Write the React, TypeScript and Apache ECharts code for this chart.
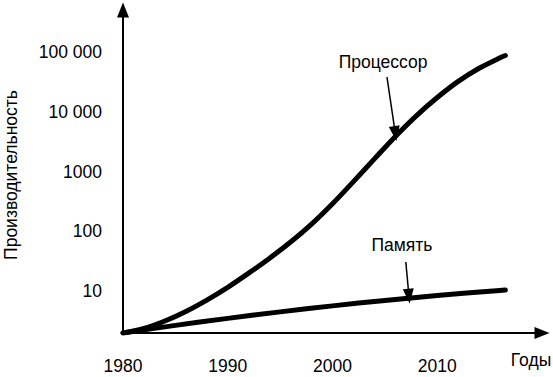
import React, { useEffect, useRef } from "react";
import * as echarts from "echarts";

// X axis: years
const xTickValues = [1980, 1990, 2000, 2010];
const xTickLabels = ["1980", "1990", "2000", "2010"];
const xAxisName = "Годы";

// Y axis: performance (log scale)
const yTickValues = [10, 100, 1000, 10000, 100000];
const yTickLabels = ["10", "100", "1000", "10 000", "100 000"];
const yAxisName = "Производительность";

// Processor curve (read every 2 years)
const processorYears = [1980, 1982, 1984, 1986, 1988, 1990, 1992, 1994, 1996, 1998, 2000, 2002, 2004, 2006, 2008, 2010, 2012, 2014, 2016, 2016.5];
const processorValues = [2, 2.38, 3.17, 4.58, 7.1, 11.6, 20, 35.6, 66.2, 132, 289, 678, 1626, 3855, 8530, 17220, 32060, 53200, 79600, 86700];
const processorName = "Процессор";

// Memory curve (read every 5 years)
const memoryYears = [1980, 1985, 1990, 1995, 2000, 2005, 2010, 2015, 2016.5];
const memoryValues = [2, 2.68, 3.51, 4.51, 5.68, 7.0, 8.45, 10.0, 10.46];
const memoryName = "Память";

// Annotation arrows: [start, end] in data coordinates
const processorArrow = [[2005.2, 37900], [2006, 4300]];
const memoryArrow = [[2007.0, 30.7], [2007.3, 8.2]];

const FONT = "'Liberation Sans', Arial, sans-serif";

export default function App() {
  const ref = useRef<HTMLDivElement>(null);

  useEffect(() => {
    if (!ref.current) return;
    const chart = echarts.init(ref.current, null, { renderer: "svg" });

    const arrowLine = (pts: number[][]) => ({
      silent: true,
      symbol: ["none", "triangle"],
      symbolSize: [11, 15],
      label: { show: false },
      lineStyle: { color: "#000", width: 1.5, type: "solid" },
      emphasis: { disabled: true },
      data: [[{ coord: pts[0] }, { coord: pts[1] }]],
    });

    const txt = (text: string, x: number, y: number, rotation = 0) => ({
      type: "text",
      x,
      y,
      rotation,
      style: {
        text,
        fontSize: 17.5,
        fontFamily: FONT,
        fill: "#000",
        align: "center",
        verticalAlign: "middle",
      },
    });

    chart.setOption({
      animation: false,
      backgroundColor: "#fff",
      textStyle: { fontFamily: FONT },
      grid: { left: 123, right: 11, top: 10, bottom: 44, containLabel: false },
      xAxis: {
        type: "value",
        min: 1980,
        max: 2020,
        interval: 10,
        splitLine: { show: false },
        axisTick: { show: false },
        axisLine: {
          lineStyle: { color: "#000", width: 2 },
          symbol: ["none", "triangle"],
          symbolSize: [12, 15],
        },
        axisLabel: {
          color: "#000",
          fontSize: 17.5,
          fontFamily: FONT,
          margin: 24,
          showMaxLabel: false,
          formatter: (v: number) => {
            const i = xTickValues.indexOf(Math.round(v));
            return i >= 0 ? xTickLabels[i] : "";
          },
        },
      },
      yAxis: {
        type: "log",
        logBase: 10,
        min: 2,
        max: 500000,
        splitLine: { show: false },
        axisTick: { show: false },
        axisLine: {
          lineStyle: { color: "#000", width: 2 },
          symbol: ["none", "triangle"],
          symbolSize: [12, 15],
        },
        axisLabel: {
          color: "#000",
          fontSize: 17.5,
          fontFamily: FONT,
          margin: 21,
          showMinLabel: false,
          showMaxLabel: false,
          formatter: (v: number) => {
            const i = yTickValues.findIndex((t) => Math.abs(t - v) / t < 1e-6);
            return i >= 0 ? yTickLabels[i] : "";
          },
        },
      },
      series: [
        {
          name: processorName,
          type: "line",
          smooth: 0.3,
          showSymbol: false,
          silent: true,
          lineStyle: { color: "#000", width: 5, cap: "round", join: "round" },
          data: processorYears.map((y, i) => [y, processorValues[i]]),
          markLine: arrowLine(processorArrow),
          z: 3,
        },
        {
          name: memoryName,
          type: "line",
          smooth: 0.3,
          showSymbol: false,
          silent: true,
          lineStyle: { color: "#000", width: 5, cap: "round", join: "round" },
          data: memoryYears.map((y, i) => [y, memoryValues[i]]),
          markLine: arrowLine(memoryArrow),
          z: 3,
        },
      ],
      graphic: [
        txt(yAxisName, 11, 175, Math.PI / 2),
        txt(xAxisName, 531, 360),
        txt(processorName, 383, 62),
        txt(memoryName, 402, 244.5),
      ],
    });

    return () => chart.dispose();
  }, []);

  return (
    <div
      ref={ref}
      style={{ position: "fixed", left: 0, top: 0, width: 553, height: 377 }}
    />
  );
}
